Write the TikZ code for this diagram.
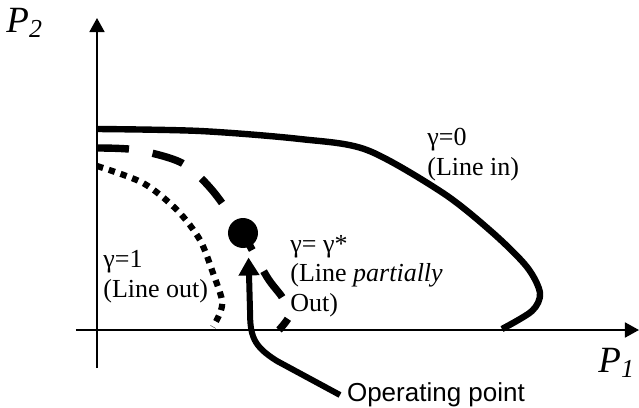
\documentclass[tikz,border=0pt]{standalone}
\usepackage{fontspec}
\setmainfont{Liberation Serif}
\newfontfamily\arialfont{Liberation Sans}
\usetikzlibrary{arrows.meta, positioning}

\begin{document}
\begin{tikzpicture}[x=5pt,y=5pt,
    axis/.style={line width=0.9pt,-{Triangle[length=7pt,width=7.5pt]}},
    curvelbl/.style={anchor=base west,inner sep=0pt,align=left,font=\fontsize{13}{14.7}\selectfont},
    axlbl/.style={anchor=base west,inner sep=0pt,font=\fontsize{18.5}{20}\selectfont\itshape}]
  \useasboundingbox (-9.7,-7.8) rectangle (54.2,33);
  % axes
  \coordinate (xs) at (-2.1,0);
  \coordinate (xe) at (54.2,0);
  \coordinate (ys) at (0,-3.8);
  \coordinate (ye) at (0,31.2);
  \draw[axis] (xs) -- (xe);
  \draw[axis] (ys) -- (ye);
  \node[axlbl] (p1) at (50.1,-4.2) {P\textsubscript{1}};
  \node[axlbl] (p2) at (-9.1,29.8) {P\textsubscript{2}};
  % regions
  \draw[line width=3.2pt] plot[smooth] coordinates {(0,20.1) (10.3,19.9) (20.3,19.1) (27,18) (34.6,13.7) (39.6,9.7) (43,6.3) (44.3,3.7) (43.5,1.9) (40.5,0.1)};
  \draw[line width=3.7pt,dash pattern=on 16pt off 12pt] plot[smooth] coordinates {(0,18.2) (4,18.0) (8.5,16.7) (11.5,14) (14.6,9.6) (17,5.3) (18.5,3.3) (19.3,1.6) (18.2,0)};
  \draw[line width=3.1pt,dash pattern=on 3.2pt off 3pt] plot[smooth] coordinates {(0,16.4) (4.6,14.7) (8,12) (10.3,9) (11.6,5.7) (12.5,3) (12.3,1.7) (11.6,0.3)};
  \node[curvelbl] (g0) at (33,15.5) {γ=0\\(Line in)};
  \node[curvelbl] (gs) at (19.3,1.9) {γ= γ*\\(Line \textit{partially}\\Out)};
  \node[curvelbl] (g1) at (0.6,3.3) {γ=1\\(Line out)};
  % operating point
  \node[circle,fill,minimum size=15pt,inner sep=0pt] (opdot) at (14.6,9.7) {};
  \node[anchor=west,font=\arialfont\fontsize{13}{15}\selectfont] (optxt) at (24.3,-6.5) {Operating point};
  \draw[line width=3pt,-{Triangle[length=9pt,width=10pt]},shorten >=5pt] (optxt.west) -- (18,-3.1) .. controls (15.6,-1.6) and (15.3,-0.6) .. (15.3,2) -- (opdot.-70);
\end{tikzpicture}
\end{document}
